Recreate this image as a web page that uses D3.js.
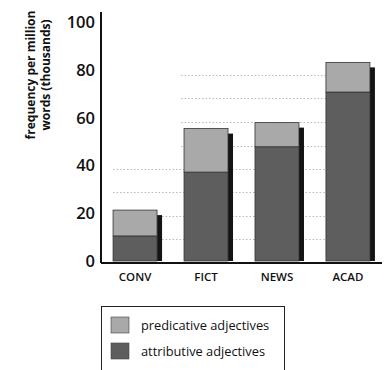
<!DOCTYPE html>
<html>
<head>
<meta charset="utf-8">
<script src="https://cdn.jsdelivr.net/npm/d3@7"></script>
<style>
  body { margin: 0; background: #fff; }
  text { font-family: "Open Sans", "DejaVu Sans", sans-serif; fill: #111; }
</style>
</head>
<body>
<div id="chart"></div>
<script>
const categories = ['CONV', 'FICT', 'NEWS', 'ACAD'];
const attributive = [10.5, 37.2, 47.8, 70.7];
const predicative = [10.8, 18.2, 10.1, 12.4];
const yTicks = [0, 20, 40, 60, 80, 100];
const guideLines = [9.2, 19, 29, 38.5, 48, 58, 68, 78];
const guideStart = ['CONV', 'CONV', 'CONV', 'CONV', 'FICT', 'FICT', 'FICT', 'FICT'];
const seriesNames = ['predicative adjectives', 'attributive adjectives'];

const width = 389;
const height = 370;
const margin = { top: 22, left: 101, right: 7, bottom: 109 };

const svg = d3.select('#chart')
  .append('svg')
  .attr('width', width)
  .attr('height', height);

const x = d3.scaleBand()
  .domain(categories)
  .range([margin.left, width - margin.right])
  .paddingInner(0.38)
  .paddingOuter(0.17);

const y = d3.scaleLinear()
  .domain([0, 100])
  .range([height - margin.bottom, margin.top]);

const colAttr = '#5e5e5e';
const colPred = '#a9a9a9';

const totals = categories.map((c, i) => attributive[i] + predicative[i]);

// dotted guide lines behind the bars
svg.append('g')
  .selectAll('line')
  .data(guideLines)
  .join('line')
    .attr('x1', (v, i) => x(guideStart[i]) - (guideStart[i] === 'FICT' ? 3 : 0))
    .attr('x2', x('ACAD'))
    .attr('y1', v => Math.round(y(v)) + 0.5)
    .attr('y2', v => Math.round(y(v)) + 0.5)
    .attr('stroke', '#b8b8b8')
    .attr('stroke-width', 1)
    .attr('stroke-dasharray', '1.5,2');

// shadows
svg.append('g')
  .selectAll('rect')
  .data(categories)
  .join('rect')
    .attr('x', d => x(d) + x.bandwidth())
    .attr('y', (d, i) => y(totals[i]) + 5)
    .attr('width', 5)
    .attr('height', (d, i) => y(0) - y(totals[i]) - 5)
    .attr('fill', '#141414');

// attributive (bottom)
svg.append('g')
  .selectAll('rect')
  .data(categories)
  .join('rect')
    .attr('x', d => x(d))
    .attr('y', (d, i) => y(attributive[i]))
    .attr('width', x.bandwidth())
    .attr('height', (d, i) => y(0) - y(attributive[i]))
    .attr('fill', colAttr)
    .attr('stroke', '#333')
    .attr('stroke-width', 0.8);

// predicative (top)
svg.append('g')
  .selectAll('rect')
  .data(categories)
  .join('rect')
    .attr('x', d => x(d))
    .attr('y', (d, i) => y(totals[i]))
    .attr('width', x.bandwidth())
    .attr('height', (d, i) => y(attributive[i]) - y(totals[i]))
    .attr('fill', colPred)
    .attr('stroke', '#333')
    .attr('stroke-width', 0.8);

// axes
svg.append('line')
  .attr('x1', margin.left).attr('x2', margin.left)
  .attr('y1', 12).attr('y2', y(0) + 2)
  .attr('stroke', '#111').attr('stroke-width', 2);

svg.append('line')
  .attr('x1', margin.left).attr('x2', width - margin.right)
  .attr('y1', y(0) + 2).attr('y2', y(0) + 2)
  .attr('stroke', '#111').attr('stroke-width', 2);

svg.append('g')
  .selectAll('text')
  .data(yTicks)
  .join('text')
    .attr('x', 95)
    .attr('y', d => y(d))
    .attr('dy', '0.36em')
    .attr('text-anchor', 'end')
    .attr('font-size', 16.5)
    .attr('font-weight', 600)
    .text(d => d);

// x labels
svg.append('g')
  .selectAll('text')
  .data(categories)
  .join('text')
    .attr('x', d => x(d) + x.bandwidth() / 2)
    .attr('y', 281)
    .attr('text-anchor', 'middle')
    .attr('font-size', 11.5)
    .attr('font-weight', 600)
    .text(d => d);

// y title
const yt = svg.append('text')
  .attr('transform', 'translate(39,75) rotate(-90)')
  .attr('text-anchor', 'middle')
  .attr('font-size', 12)
  .attr('font-weight', 700);
yt.append('tspan').attr('x', 0).attr('dy', '-0.3em').text('frequency per million');
yt.append('tspan').attr('x', 0).attr('dy', '1.2em').text('words (thousands)');

// legend
const lg = svg.append('g');
lg.append('rect')
  .attr('x', 101.5).attr('y', 306.5)
  .attr('width', 183).attr('height', 70)
  .attr('fill', 'none')
  .attr('stroke', '#222')
  .attr('stroke-width', 1);

const legendItems = lg.selectAll('g')
  .data(seriesNames)
  .join('g')
    .attr('transform', (d, i) => `translate(111,${317 + i * 26})`);

legendItems.append('rect')
  .attr('width', 18).attr('height', 16)
  .attr('fill', (d, i) => i === 0 ? colPred : colAttr)
  .attr('stroke', '#444').attr('stroke-width', 0.6);

legendItems.append('text')
  .attr('x', 30).attr('y', 12.5)
  .attr('font-size', 12.8)
  .text(d => d);
</script>
</body>
</html>
